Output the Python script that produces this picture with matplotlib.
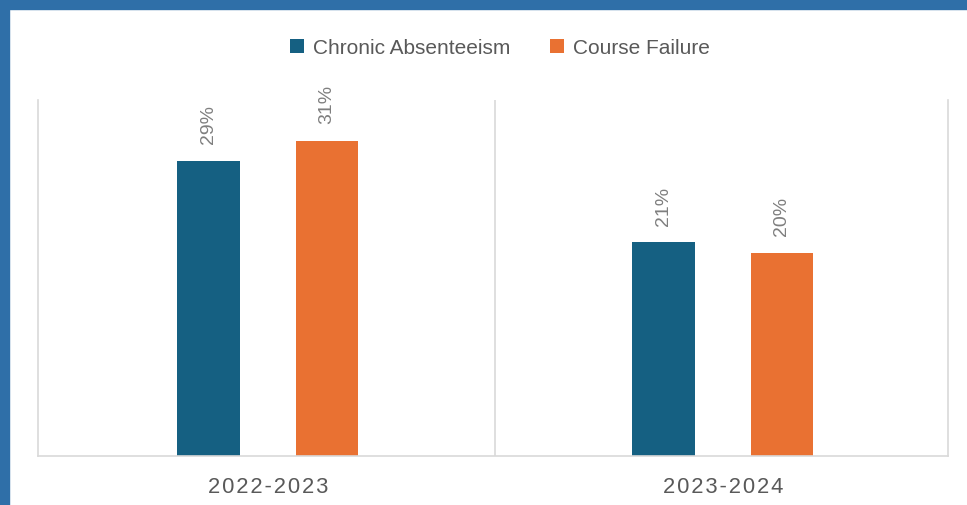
import numpy as np
import matplotlib.pyplot as plt
from matplotlib.patches import Rectangle

# data
years = ['2022-2023', '2023-2024']
series = ['Chronic Absenteeism', 'Course Failure']
absenteeism = [29, 21]
course_failure = [31, 20]

colors = ['#156082', '#E97132']
grid_gray = '#D9D9D9'

plt.rcParams['font.family'] = ['Liberation Sans', 'DejaVu Sans']

fig = plt.figure(figsize=(9.67, 5.05), dpi=100)
ax = fig.add_axes([38 / 967, 49 / 505, 910 / 967, 356 / 505])

x = np.arange(len(years))
w = 0.137
off = 0.13
b1 = ax.bar(x - off, absenteeism, w, color=colors[0], label=series[0])
b2 = ax.bar(x + off, course_failure, w, color=colors[1], label=series[1])

for bars, vals in ((b1, absenteeism), (b2, course_failure)):
    for r, v in zip(bars, vals):
        ax.annotate(f'{v}%', (r.get_x() + r.get_width() / 2, r.get_height()),
                    xytext=(0, 12), textcoords='offset points',
                    rotation=90, ha='center', va='bottom',
                    fontsize=14, color='#7F7F7F')

ax.set_xlim(-0.505, 1.495)
ax.set_ylim(0, 35)
ax.set_yticks([])
ax.set_xticks(x)
ax.set_xticklabels(['\u200a'.join(y) for y in years], fontsize=15.8, color='#595959')
ax.tick_params(axis='x', length=0, pad=15)
ax.axvline(0.5, color=grid_gray, lw=1.2)
for s in ('left', 'right', 'bottom'):
    ax.spines[s].set_color(grid_gray)
    ax.spines[s].set_linewidth(1.2)
ax.spines['top'].set_visible(False)

fig.legend(handles=[b1, b2], labels=series, loc='center', ncol=2,
           bbox_to_anchor=(0.517, 1 - 48 / 505), frameon=False,
           fontsize=15, labelcolor='#595959', handlelength=0.65, handleheight=0.65,
           handletextpad=0.45, columnspacing=1.9)

# blue frame on top and left
frame = '#2F6FA8'
fig.patches.append(Rectangle((0, 1 - 9 / 505), 1, 9 / 505, transform=fig.transFigure,
                             color=frame, zorder=10))
fig.patches.append(Rectangle((0, 0), 9 / 967, 1, transform=fig.transFigure,
                             color=frame, zorder=10))

fig.savefig('out.png', dpi=100)
